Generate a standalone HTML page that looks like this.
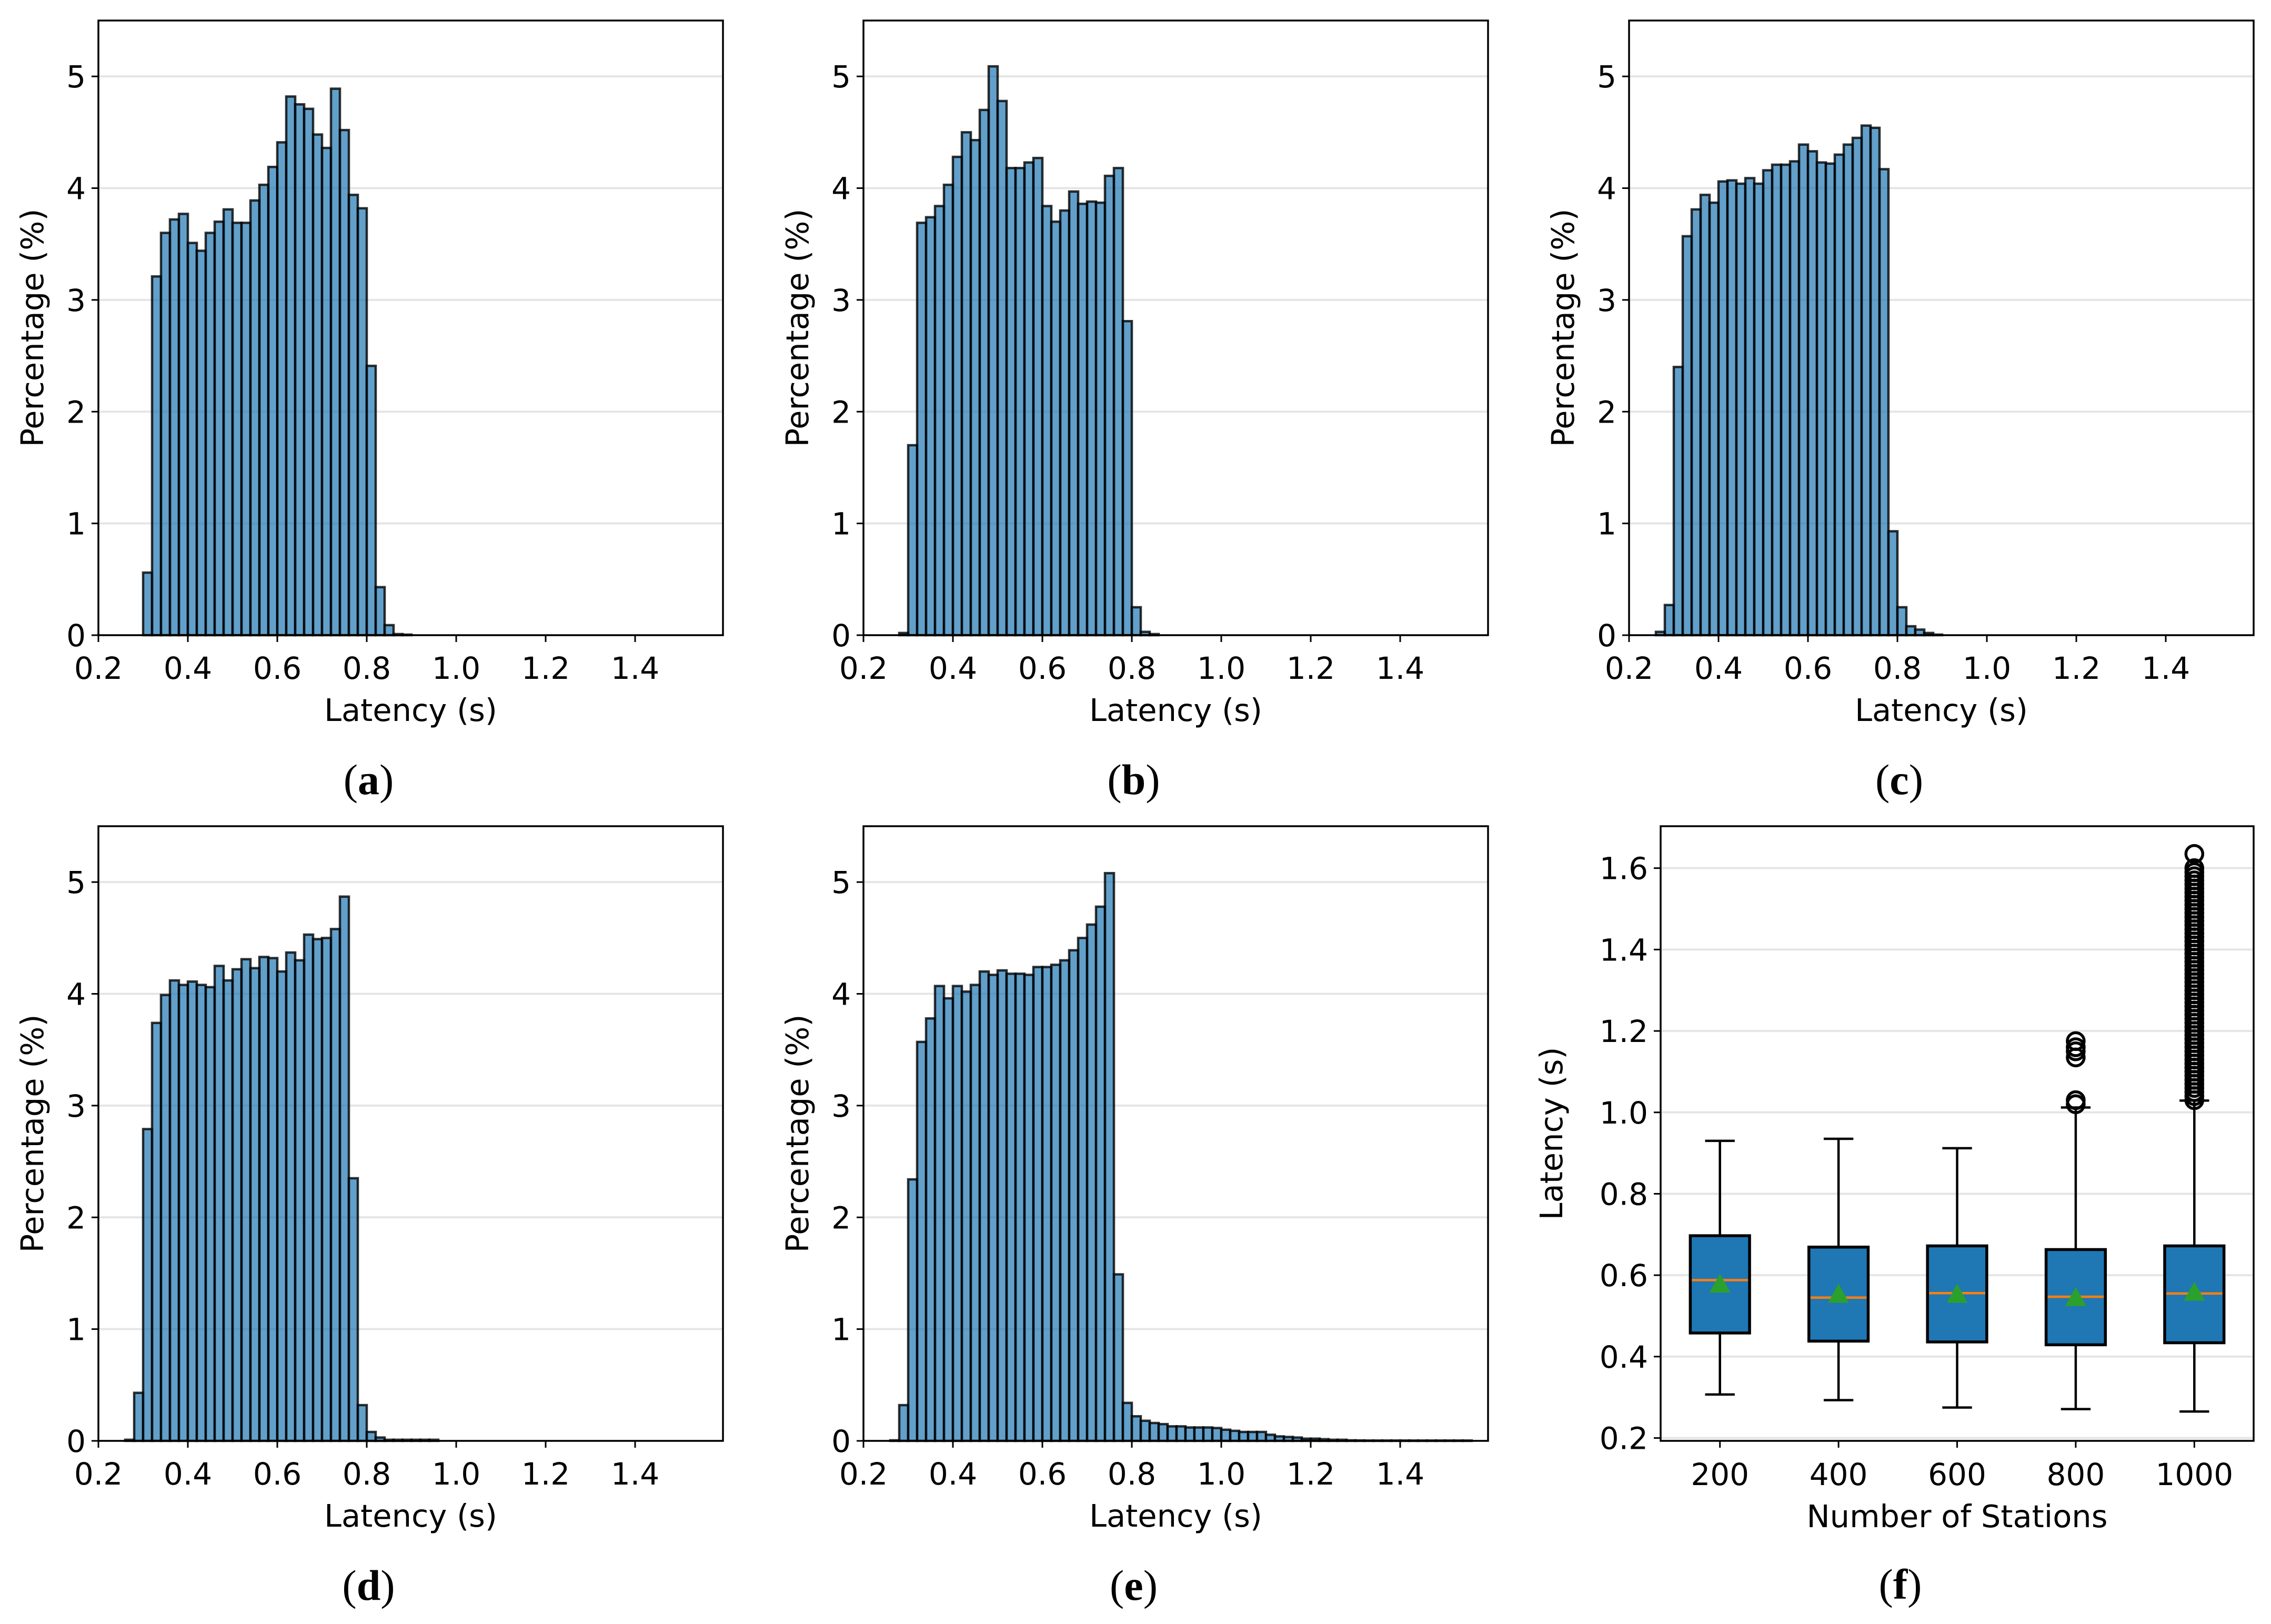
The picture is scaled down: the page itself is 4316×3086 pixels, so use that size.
<!DOCTYPE html>
<html><head><meta charset="utf-8">
<style>
html,body{margin:0;padding:0;background:#fff;}
svg{display:block;}
text{font-family:"DejaVu Sans","Liberation Sans",sans-serif;fill:#000;}
.cap{font-family:"Liberation Serif",serif;}
</style></head>
<body>
<svg id="fig" width="4316" height="3086" viewBox="0 0 4316 3086" xmlns="http://www.w3.org/2000/svg"></svg>
<script>
// ---------- data ----------
const binWidth = 0.02;
const startA = 0.30;
const valuesA = [0.56,3.21,3.60,3.72,3.77,3.51,3.44,3.60,3.70,3.81,3.69,3.69,3.89,4.03,4.19,4.41,4.82,4.75,4.71,4.48,4.36,4.89,4.52,3.94,3.82,2.41,0.43,0.09,0.01,0.005];
const startB = 0.28;
const valuesB = [0.02,1.70,3.69,3.74,3.84,4.03,4.28,4.50,4.43,4.70,5.09,4.78,4.18,4.18,4.23,4.27,3.84,3.70,3.80,3.97,3.86,3.88,3.87,4.11,4.18,2.81,0.25,0.03,0.01];
const startC = 0.26;
const valuesC = [0.03,0.27,2.40,3.57,3.81,3.94,3.87,4.06,4.07,4.04,4.09,4.04,4.16,4.21,4.21,4.24,4.39,4.33,4.23,4.22,4.30,4.39,4.45,4.56,4.54,4.17,0.93,0.25,0.08,0.05,0.02,0.005];
const startD = 0.26;
const valuesD = [0.01,0.43,2.79,3.74,3.99,4.12,4.08,4.11,4.08,4.06,4.25,4.12,4.22,4.31,4.23,4.33,4.32,4.20,4.37,4.30,4.53,4.49,4.50,4.58,4.87,2.35,0.32,0.08,0.03,0.01,0.01,0.01,0.01,0.01,0.01];
const startE = 0.26;
const valuesE = [0.005,0.32,2.34,3.57,3.78,4.07,3.96,4.07,4.02,4.08,4.20,4.17,4.21,4.18,4.18,4.17,4.24,4.24,4.26,4.30,4.39,4.50,4.62,4.78,5.08,1.49,0.34,0.22,0.18,0.16,0.15,0.13,0.13,0.12,0.12,0.12,0.115,0.10,0.09,0.08,0.08,0.08,0.055,0.04,0.035,0.03,0.02,0.02,0.015,0.01,0.01,0.005,0.004,0.003,0.003,0.003,0.003,0.003,0.003,0.003,0.003,0.003,0.003,0.003,0.003];
const histXTicks = [0.2,0.4,0.6,0.8,1.0,1.2,1.4];
const histXTickLabels = ["0.2","0.4","0.6","0.8","1.0","1.2","1.4"];
const histYTicks = [0,1,2,3,4,5];
const histYTickLabels = ["0","1","2","3","4","5"];

const boxCategories = ["200","400","600","800","1000"];
const boxQ1 = [0.458,0.438,0.436,0.429,0.434];
const boxQ3 = [0.697,0.669,0.672,0.663,0.672];
const boxMedian = [0.588,0.545,0.556,0.547,0.555];
const boxMean = [0.578,0.553,0.553,0.545,0.558];
const boxWhiskerLow = [0.307,0.293,0.275,0.271,0.265];
const boxWhiskerHigh = [0.930,0.935,0.912,1.012,1.029];
const outliers800 = [1.02,1.03,1.135,1.15,1.16,1.175];
const outliers1000 = [1.03,1.04,1.05,1.06,1.07,1.08,1.09,1.10,1.11,1.12,1.13,1.14,1.15,1.16,1.17,1.18,1.19,1.20,1.21,1.22,1.23,1.24,1.25,1.26,1.27,1.28,1.29,1.30,1.31,1.32,1.33,1.34,1.35,1.36,1.37,1.38,1.39,1.40,1.41,1.42,1.43,1.44,1.45,1.46,1.47,1.48,1.49,1.50,1.51,1.52,1.53,1.54,1.55,1.56,1.57,1.58,1.59,1.60,1.635];
const boxYTicks = [0.2,0.4,0.6,0.8,1.0,1.2,1.4,1.6];
const boxYTickLabels = ["0.2","0.4","0.6","0.8","1.0","1.2","1.4","1.6"];

// ---------- drawing ----------
const NS = "http://www.w3.org/2000/svg";
const fig = document.getElementById('fig');
function mk(tag, attrs, parent){
  const e = document.createElementNS(NS, tag);
  for (const k in attrs) e.setAttribute(k, attrs[k]);
  (parent||fig).appendChild(e);
  return e;
}
function txt(str, attrs, parent){
  const t = mk('text', attrs, parent);
  t.textContent = str;
  return t;
}

function caption(letter, cx, baseY, parent){
  const t = mk('text', {x:cx, y:baseY, 'text-anchor':'middle', 'font-size':82, class:'cap'}, parent);
  
  
  const p1 = document.createElementNS(NS,'tspan'); p1.textContent='('; t.appendChild(p1);
  const p2 = document.createElementNS(NS,'tspan'); p2.textContent=letter; p2.setAttribute('font-weight','bold'); t.appendChild(p2);
  const p3 = document.createElementNS(NS,'tspan'); p3.textContent=')'; t.appendChild(p3);
}

function histPanel(name, letter, L, T, start, values){
  const W = 1187, H = 1168, R = L + W, B = T + H;
  const x0 = 0.2, x1 = 0.2 + W/850, y0 = 0, y1 = 5.5;
  const sx = v => L + (v - x0) / (x1 - x0) * W;
  const sy = v => B - (v - y0) / (y1 - y0) * H;
  const g = mk('g', {});
  
  
  histYTicks.forEach(v => {
    const l = mk('line', {x1:L, x2:R, y1:sy(v), y2:sy(v), stroke:'#e5e5e5', 'stroke-width':4}, g);
    
    
  });
  values.forEach((v, i) => {
    const a = start + i * binWidth;
    const xa = sx(a), xb = sx(a + binWidth);
    const r = mk('rect', {x:xa, y:sy(v), width:xb - xa, height:Math.max(0, B - sy(v)),
      fill:'rgba(31,119,180,0.7)', stroke:'rgba(0,0,0,0.8)', 'stroke-width':4.5}, g);
    
    
  });
  const f = mk('rect', {x:L, y:T, width:W, height:H, fill:'none', stroke:'#000', 'stroke-width':3.5}, g);
  
  
  histXTicks.forEach((v, i) => {
    mk('line', {x1:sx(v), x2:sx(v), y1:B, y2:B+13, stroke:'#000', 'stroke-width':3}, g);
    const t = txt(histXTickLabels[i], {x:sx(v), y:B+83, 'text-anchor':'middle', 'font-size':58}, g);
    
    
  });
  histYTicks.forEach((v, i) => {
    mk('line', {x1:L-13, x2:L, y1:sy(v), y2:sy(v), stroke:'#000', 'stroke-width':3}, g);
    const t = txt(histYTickLabels[i], {x:L-24, y:sy(v)+21, 'text-anchor':'end', 'font-size':58}, g);
    
    
  });
  const xl = txt('Latency (s)', {x:L + W/2, y:B+163, 'text-anchor':'middle', 'font-size':59}, g);
  
  
  const yc = T + H/2, xc = L - 105;
  const yl = txt('Percentage (%)', {x:xc, y:yc, 'text-anchor':'middle', 'font-size':59, transform:`rotate(-90 ${xc} ${yc})`}, g);
  
  
  caption(letter, L + W/2 - 80, B + 302, g);
}

histPanel('histogram-a', 'a', 187, 39, startA, valuesA);
histPanel('histogram-b', 'b', 1641, 39, startB, valuesB);
histPanel('histogram-c', 'c', 3096, 39, startC, valuesC);
histPanel('histogram-d', 'd', 187, 1570, startD, valuesD);
histPanel('histogram-e', 'e', 1641, 1570, startE, valuesE);

(function(){
  const L = 3156, T = 1570, R = 4283, B = 2738, W = R - L, H = B - T;
  const y0 = 0.193, y1 = 1.703;
  const sx = i => L + (i + 0.5) / 5 * W;
  const sy = v => B - (v - y0) / (y1 - y0) * H;
  const unit = W / 5;
  const g = mk('g', {});
  
  
  boxYTicks.forEach(v => {
    const l = mk('line', {x1:L, x2:R, y1:sy(v), y2:sy(v), stroke:'#e5e5e5', 'stroke-width':4}, g);
    
    
  });
  boxCategories.forEach((c, i) => {
    const cx = sx(i), hw = unit * 0.25, cw = unit * 0.125;
    mk('line', {x1:cx, x2:cx, y1:sy(boxQ3[i]), y2:sy(boxWhiskerHigh[i]), stroke:'#000', 'stroke-width':4.5}, g);
    mk('line', {x1:cx, x2:cx, y1:sy(boxQ1[i]), y2:sy(boxWhiskerLow[i]), stroke:'#000', 'stroke-width':4.5}, g);
    const c1 = mk('line', {x1:cx-cw, x2:cx+cw, y1:sy(boxWhiskerHigh[i]), y2:sy(boxWhiskerHigh[i]), stroke:'#000', 'stroke-width':4.5}, g);
    
    
    const c2 = mk('line', {x1:cx-cw, x2:cx+cw, y1:sy(boxWhiskerLow[i]), y2:sy(boxWhiskerLow[i]), stroke:'#000', 'stroke-width':4.5}, g);
    
    
    const box = mk('rect', {x:cx-hw, y:sy(boxQ3[i]), width:2*hw, height:sy(boxQ1[i]) - sy(boxQ3[i]), fill:'#1f77b4', stroke:'#000', 'stroke-width':5.5}, g);
    
    
    const med = mk('line', {x1:cx-hw+3, x2:cx+hw-3, y1:sy(boxMedian[i]), y2:sy(boxMedian[i]), stroke:'#ff7f0e', 'stroke-width':4.5}, g);
    
    
    const my = sy(boxMean[i]), s = 20;
    const tri = mk('polygon', {points:`${cx},${my-s} ${cx-s},${my+s*0.8} ${cx+s},${my+s*0.8}`, fill:'#2ca02c'}, g);
    
    
    mk('line', {x1:cx, x2:cx, y1:B, y2:B+13, stroke:'#000', 'stroke-width':3}, g);
    const t = txt(c, {x:cx, y:B+84, 'text-anchor':'middle', 'font-size':58}, g);
    
    
  });
  const drawOut = (arr, i) => arr.forEach(v => {
    const o = mk('circle', {cx:sx(i), cy:sy(v), r:16, fill:'none', stroke:'#000', 'stroke-width':5.5}, g);
    
    
  });
  drawOut(outliers800, 3);
  drawOut(outliers1000, 4);
  const f = mk('rect', {x:L, y:T, width:W, height:H, fill:'none', stroke:'#000', 'stroke-width':3.5}, g);
  
  
  boxYTicks.forEach((v, i) => {
    mk('line', {x1:L-13, x2:L, y1:sy(v), y2:sy(v), stroke:'#000', 'stroke-width':3}, g);
    const t = txt(boxYTickLabels[i], {x:L-24, y:sy(v)+21, 'text-anchor':'end', 'font-size':58}, g);
    
    
  });
  const xl = txt('Number of Stations', {x:L + W/2, y:B+164, 'text-anchor':'middle', 'font-size':59}, g);
  
  
  const yc = T + H/2, xc = L - 187;
  const yl = txt('Latency (s)', {x:xc, y:yc, 'text-anchor':'middle', 'font-size':59, transform:`rotate(-90 ${xc} ${yc})`}, g);
  
  
  caption('f', L + W/2 - 108, B + 300, g);
})();
</script>
</body></html>
